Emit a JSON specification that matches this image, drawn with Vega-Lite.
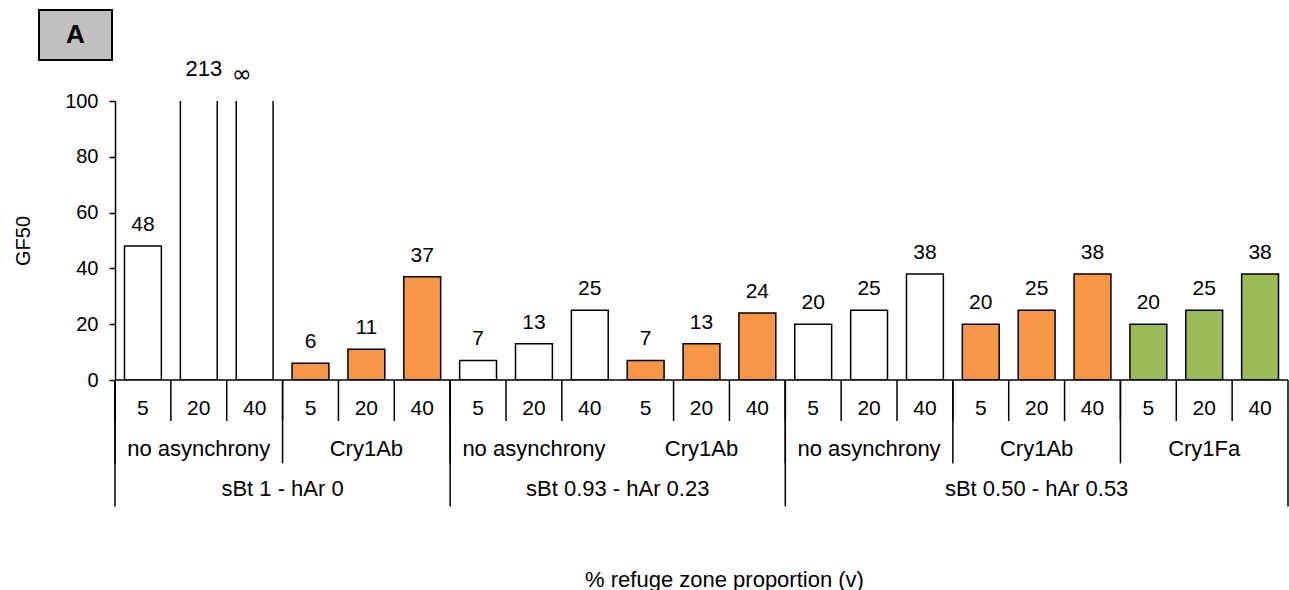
{
  "$schema": "https://vega.github.io/schema/vega-lite/v6.json",
  "padding": {"left": 13, "top": 9, "right": 0, "bottom": 0},
  "spacing": -3,
  "config": {
    "font": "Liberation Sans",
    "view": {"stroke": null},
    "axis": {"grid": false}
  },
  "datasets": {
    "panel": [{"panel": "A"}],
    "gf50": [
      {"scenario": "sBt 1 - hAr 0", "type": "no asynchrony", "refuge": 5, "bar": "sBt 1 - hAr 0 / no asynchrony / 5", "value": 48},
      {"scenario": "sBt 1 - hAr 0", "type": "no asynchrony", "refuge": 20, "bar": "sBt 1 - hAr 0 / no asynchrony / 20", "value": 213},
      {"scenario": "sBt 1 - hAr 0", "type": "no asynchrony", "refuge": 40, "bar": "sBt 1 - hAr 0 / no asynchrony / 40", "value": null, "note": "∞"},
      {"scenario": "sBt 1 - hAr 0", "type": "Cry1Ab", "refuge": 5, "bar": "sBt 1 - hAr 0 / Cry1Ab / 5", "value": 6},
      {"scenario": "sBt 1 - hAr 0", "type": "Cry1Ab", "refuge": 20, "bar": "sBt 1 - hAr 0 / Cry1Ab / 20", "value": 11},
      {"scenario": "sBt 1 - hAr 0", "type": "Cry1Ab", "refuge": 40, "bar": "sBt 1 - hAr 0 / Cry1Ab / 40", "value": 37},
      {"scenario": "sBt 0.93 - hAr 0.23", "type": "no asynchrony", "refuge": 5, "bar": "sBt 0.93 - hAr 0.23 / no asynchrony / 5", "value": 7},
      {"scenario": "sBt 0.93 - hAr 0.23", "type": "no asynchrony", "refuge": 20, "bar": "sBt 0.93 - hAr 0.23 / no asynchrony / 20", "value": 13},
      {"scenario": "sBt 0.93 - hAr 0.23", "type": "no asynchrony", "refuge": 40, "bar": "sBt 0.93 - hAr 0.23 / no asynchrony / 40", "value": 25},
      {"scenario": "sBt 0.93 - hAr 0.23", "type": "Cry1Ab", "refuge": 5, "bar": "sBt 0.93 - hAr 0.23 / Cry1Ab / 5", "value": 7},
      {"scenario": "sBt 0.93 - hAr 0.23", "type": "Cry1Ab", "refuge": 20, "bar": "sBt 0.93 - hAr 0.23 / Cry1Ab / 20", "value": 13},
      {"scenario": "sBt 0.93 - hAr 0.23", "type": "Cry1Ab", "refuge": 40, "bar": "sBt 0.93 - hAr 0.23 / Cry1Ab / 40", "value": 24},
      {"scenario": "sBt 0.50 - hAr 0.53", "type": "no asynchrony", "refuge": 5, "bar": "sBt 0.50 - hAr 0.53 / no asynchrony / 5", "value": 20},
      {"scenario": "sBt 0.50 - hAr 0.53", "type": "no asynchrony", "refuge": 20, "bar": "sBt 0.50 - hAr 0.53 / no asynchrony / 20", "value": 25},
      {"scenario": "sBt 0.50 - hAr 0.53", "type": "no asynchrony", "refuge": 40, "bar": "sBt 0.50 - hAr 0.53 / no asynchrony / 40", "value": 38},
      {"scenario": "sBt 0.50 - hAr 0.53", "type": "Cry1Ab", "refuge": 5, "bar": "sBt 0.50 - hAr 0.53 / Cry1Ab / 5", "value": 20},
      {"scenario": "sBt 0.50 - hAr 0.53", "type": "Cry1Ab", "refuge": 20, "bar": "sBt 0.50 - hAr 0.53 / Cry1Ab / 20", "value": 25},
      {"scenario": "sBt 0.50 - hAr 0.53", "type": "Cry1Ab", "refuge": 40, "bar": "sBt 0.50 - hAr 0.53 / Cry1Ab / 40", "value": 38},
      {"scenario": "sBt 0.50 - hAr 0.53", "type": "Cry1Fa", "refuge": 5, "bar": "sBt 0.50 - hAr 0.53 / Cry1Fa / 5", "value": 20},
      {"scenario": "sBt 0.50 - hAr 0.53", "type": "Cry1Fa", "refuge": 20, "bar": "sBt 0.50 - hAr 0.53 / Cry1Fa / 20", "value": 25},
      {"scenario": "sBt 0.50 - hAr 0.53", "type": "Cry1Fa", "refuge": 40, "bar": "sBt 0.50 - hAr 0.53 / Cry1Fa / 40", "value": 38}
    ]
  },
  "vconcat": [
    {
      "data": {"name": "panel"},
      "width": 73,
      "height": 50,
      "view": {"fill": "#C0C0C0", "stroke": "#000000", "strokeWidth": 2},
      "mark": {"type": "text", "fontSize": 26, "fontWeight": "bold", "color": "#000000", "baseline": "middle"},
      "encoding": {
        "x": {"field": "panel", "type": "nominal", "axis": null, "scale": {"paddingInner": 0, "paddingOuter": 0}},
        "text": {"field": "panel"}
      }
    },
    {
      "data": {"name": "gf50"},
      "width": 1249,
      "height": 279,
      "encoding": {
        "x": {
          "field": "bar", "type": "nominal", "sort": null,
          "scale": {"paddingInner": 0, "paddingOuter": 0.6804, "align": 1},
          "axis": {
            "labels": false, "ticks": false, "domain": false,
            "title": "% refuge zone proportion (v)", "titleFontSize": 22, "titleFontWeight": "normal",
            "titleColor": "#000000", "titleX": 685, "titleY": 199, "titleBaseline": "middle", "titleAlign": "center"
          }
        }
      },
      "layer": [
        {
          "mark": {"type": "text", "fontSize": 21, "baseline": "middle", "color": "#000000"},
          "encoding": {
            "y": {
              "datum": -10.4, "type": "quantitative",
              "scale": {"domain": [0, 100], "nice": false},
              "axis": {
                "values": [0, 20, 40, 60, 80, 100], "offset": -76, "title": "GF50", "titleFontSize": 20, "titleFontWeight": "normal",
                "titleColor": "#000000", "titlePadding": 31, "labelFontSize": 20, "labelColor": "#000000",
                "labelPadding": 11, "tickSize": 6, "tickColor": "#000000", "tickWidth": 1.5,
                "domainColor": "#000000", "domainWidth": 1.5, "grid": false
              }
            },
            "text": {"field": "refuge", "type": "quantitative"}
          }
        },
        {
          "mark": {"type": "bar", "stroke": "#000000", "strokeWidth": 1.5, "width": {"band": 0.66}, "clip": true},
          "encoding": {
            "y": {"field": "value", "type": "quantitative", "title": "GF50"},
            "fill": {
              "field": "type", "type": "nominal",
              "scale": {"domain": ["no asynchrony", "Cry1Ab", "Cry1Fa"], "range": ["#FFFFFF", "#F79646", "#9BBB59"]},
              "legend": null
            }
          }
        },
        {
          "transform": [{"filter": "datum.value === null"}],
          "mark": {"type": "bar", "stroke": "#000000", "strokeWidth": 1.5, "width": {"band": 0.66}, "clip": true},
          "encoding": {
            "y": {"datum": 1000, "type": "quantitative"},
            "fill": {"field": "type", "type": "nominal", "legend": null}
          }
        },
        {
          "mark": {"type": "bar", "fill": null, "stroke": "#000000", "strokeWidth": 1.5},
          "encoding": {
            "y": {"datum": 0, "type": "quantitative"},
            "y2": {"datum": 0}
          }
        },
        {
          "transform": [{"filter": "datum.value != null && datum.value <= 100"}],
          "mark": {"type": "text", "fontSize": 21, "baseline": "middle", "dy": -21, "color": "#000000"},
          "encoding": {
            "y": {"field": "value", "type": "quantitative"},
            "text": {"field": "value", "type": "quantitative"}
          }
        },
        {
          "transform": [{"filter": "datum.value > 100"}],
          "mark": {"type": "text", "fontSize": 22, "baseline": "middle", "dy": -32, "dx": 5, "color": "#000000"},
          "encoding": {
            "y": {"datum": 100, "type": "quantitative"},
            "text": {"field": "value", "type": "quantitative"}
          }
        },
        {
          "transform": [{"filter": "datum.value === null"}],
          "mark": {"type": "text", "font": "DejaVu Sans", "fontSize": 24, "baseline": "middle", "align": "center", "dx": -13, "dy": -26, "color": "#000000"},
          "encoding": {
            "y": {"datum": 100, "type": "quantitative"},
            "text": {"field": "note"}
          }
        },
        {
          "transform": [{"filter": "!(datum.scenario == 'sBt 0.93 - hAr 0.23' && datum.type == 'Cry1Ab' && datum.refuge == 5)"}],
          "mark": {"type": "rule", "color": "#000000", "strokeWidth": 1.5},
          "encoding": {
            "x": {"field": "bar", "type": "nominal", "sort": null, "bandPosition": 0},
            "y": {"datum": 0, "type": "quantitative"},
            "y2": {"datum": -14.7}
          }
        },
        {
          "transform": [{"filter": "datum.refuge == 5 && !(datum.scenario == 'sBt 0.93 - hAr 0.23' && datum.type == 'Cry1Ab')"}],
          "mark": {"type": "rule", "color": "#000000", "strokeWidth": 1.5},
          "encoding": {
            "x": {"field": "bar", "type": "nominal", "sort": null, "bandPosition": 0},
            "y": {"datum": 0, "type": "quantitative"},
            "y2": {"datum": -29.9}
          }
        },
        {
          "transform": [{"filter": "datum.refuge == 5 && datum.type == 'no asynchrony'"}],
          "mark": {"type": "rule", "color": "#000000", "strokeWidth": 1.5},
          "encoding": {
            "x": {"field": "bar", "type": "nominal", "sort": null, "bandPosition": 0},
            "y": {"datum": 0, "type": "quantitative"},
            "y2": {"datum": -45.3}
          }
        },
        {
          "transform": [{"filter": "datum.scenario == 'sBt 0.50 - hAr 0.53' && datum.type == 'Cry1Fa' && datum.refuge == 40"}],
          "mark": {"type": "rule", "color": "#000000", "strokeWidth": 1.5},
          "encoding": {
            "x": {"field": "bar", "type": "nominal", "sort": null, "bandPosition": 1},
            "y": {"datum": 0, "type": "quantitative"},
            "y2": {"datum": -45.3}
          }
        },
        {
          "transform": [{"filter": "datum.refuge == 20"}],
          "mark": {"type": "text", "fontSize": 22, "baseline": "middle", "color": "#000000"},
          "encoding": {
            "y": {"datum": -24.7, "type": "quantitative"},
            "text": {"field": "type"}
          }
        },
        {
          "transform": [{"filter": "datum.type == 'Cry1Ab' && datum.refuge == 5 && datum.scenario != 'sBt 0.50 - hAr 0.53'"}],
          "mark": {"type": "text", "fontSize": 22, "baseline": "middle", "color": "#000000"},
          "encoding": {
            "x": {"field": "bar", "type": "nominal", "sort": null, "bandPosition": 0},
            "y": {"datum": -39.1, "type": "quantitative"},
            "text": {"field": "scenario"}
          }
        },
        {
          "transform": [{"filter": "datum.type == 'Cry1Ab' && datum.refuge == 20 && datum.scenario == 'sBt 0.50 - hAr 0.53'"}],
          "mark": {"type": "text", "fontSize": 22, "baseline": "middle", "color": "#000000"},
          "encoding": {
            "y": {"datum": -39.1, "type": "quantitative"},
            "text": {"field": "scenario"}
          }
        }
      ]
    }
  ]
}
